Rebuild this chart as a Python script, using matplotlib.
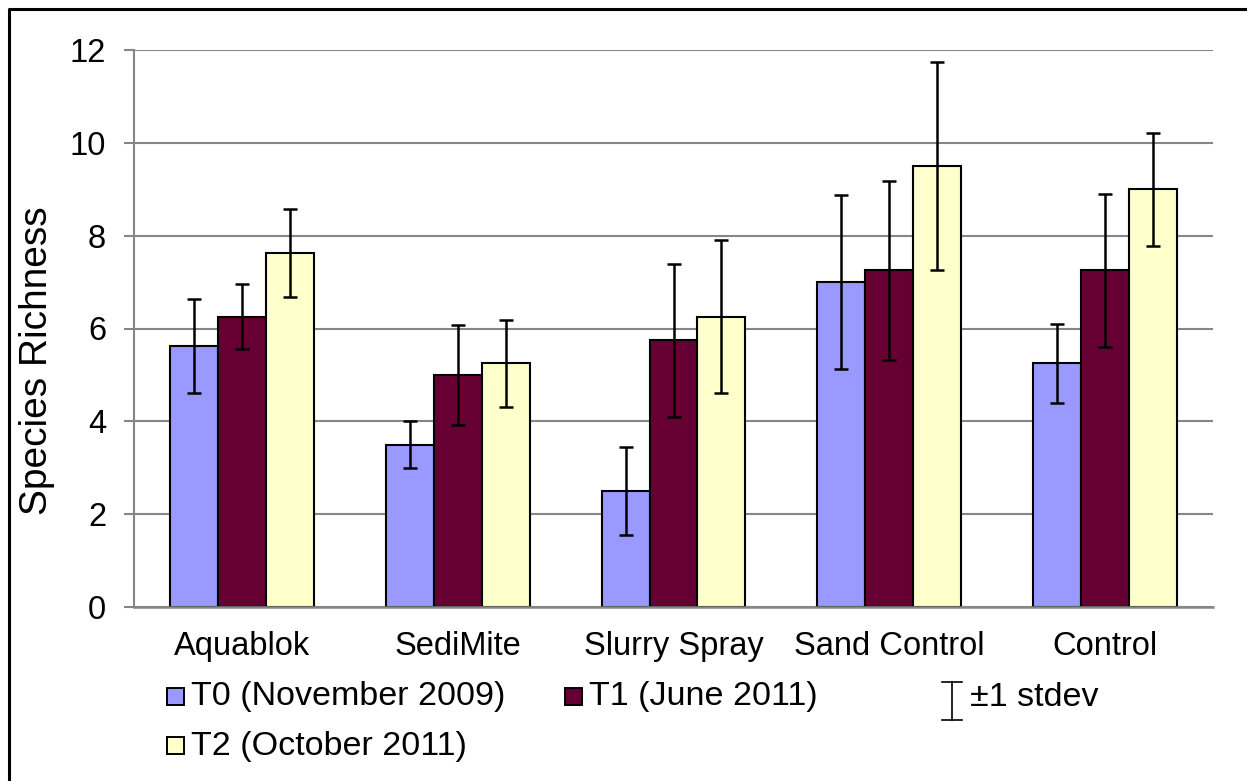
import numpy as np
import matplotlib
matplotlib.use("Agg")
import matplotlib.pyplot as plt
import matplotlib.patches as mpatches
from matplotlib.lines import Line2D

# Data
categories = ["Aquablok", "SediMite", "Slurry Spray", "Sand Control", "Control"]
series_names = ["T0 (November 2009)", "T1 (June 2011)", "T2 (October 2011)"]
t0_mean = [5.625, 3.5, 2.5, 7.0, 5.25]
t1_mean = [6.25, 5.0, 5.75, 7.25, 7.25]
t2_mean = [7.625, 5.25, 6.25, 9.5, 9.0]
t0_sd = [1.01, 0.5, 0.95, 1.87, 0.85]
t1_sd = [0.70, 1.08, 1.65, 1.93, 1.65]
t2_sd = [0.95, 0.94, 1.65, 2.25, 1.22]
y_ticks = [0, 2, 4, 6, 8, 10, 12]

colors = ["#9999FF", "#660033", "#FFFFCC"]
W, H = 1247, 781

plt.rcParams["font.family"] = ["Liberation Sans", "DejaVu Sans"]

fig = plt.figure(figsize=(W / 100, H / 100), dpi=100, facecolor="white")
ax = fig.add_axes([134 / W, 1 - 607 / H, (1213 - 134) / W, (607 - 50) / H])

x = np.arange(len(categories))
bw = 0.222
means = [t0_mean, t1_mean, t2_mean]
sds = [t0_sd, t1_sd, t2_sd]

ax.set_axisbelow(True)
ax.yaxis.grid(True, color="#868686", linewidth=1.5)
for i, (m, s) in enumerate(zip(means, sds)):
    xs = x + (i - 1) * bw
    ax.bar(xs, m, width=bw, color=colors[i], edgecolor="black", linewidth=1.5,
           zorder=2)
    ax.errorbar(xs, m, yerr=s, fmt="none", ecolor="black", elinewidth=1.8,
                capsize=5.2, capthick=1.8, zorder=3)

ax.set_xlim(-0.5, len(categories) - 0.5)
ax.set_ylim(0, 12)
ax.set_yticks(y_ticks)
ax.set_xticks(x)
ax.set_xticklabels(categories, fontsize=23.5)
ax.tick_params(axis="x", length=0, pad=17)
ax.tick_params(axis="y", labelsize=23.5, length=7, width=1.5, color="#868686",
               direction="out", pad=13)

for side in ["top", "right"]:
    ax.spines[side].set_visible(False)
ax.spines["left"].set_color("#868686")
ax.spines["left"].set_linewidth(1.5)
ax.spines["bottom"].set_color("#868686")
ax.spines["bottom"].set_linewidth(1.8)

ax.set_ylabel("Species Richness", fontsize=28)
ax.yaxis.set_label_coords(-0.073, 0.442)

# legend drawn by hand to match the Excel layout
def fx(px):
    return px / W

def fy(py):
    return 1 - py / H

leg_items = [(167, 697, 0), (565, 697, 1), (167, 746, 2)]
for px, py, i in leg_items:
    fig.add_artist(mpatches.Rectangle((fx(px), fy(py + 8)), 17 / W, 17 / H,
                                      facecolor=colors[i], edgecolor="black",
                                      linewidth=1.4, transform=fig.transFigure))
    fig.text(fx(px + 24), fy(py), series_names[i], fontsize=24.5,
             va="center", ha="left")

# error bar symbol in legend
ex = 952
fig.add_artist(Line2D([fx(ex), fx(ex)], [fy(682), fy(720)], color="black",
                      linewidth=1.2, transform=fig.transFigure))
for yy in (682, 720):
    fig.add_artist(Line2D([fx(ex - 10), fx(ex + 10)], [fy(yy), fy(yy)],
                          color="black", linewidth=1.2, transform=fig.transFigure))
fig.text(fx(970), fy(697), "±1 stdev", fontsize=24.5, va="center", ha="left")

# chart frame (left and top edges visible)
fig.add_artist(Line2D([fx(9), fx(9), fx(W)], [0, fy(9), fy(9)], color="black",
                      linewidth=2.2, transform=fig.transFigure))

fig.savefig("out.png", dpi=100, facecolor="white")
